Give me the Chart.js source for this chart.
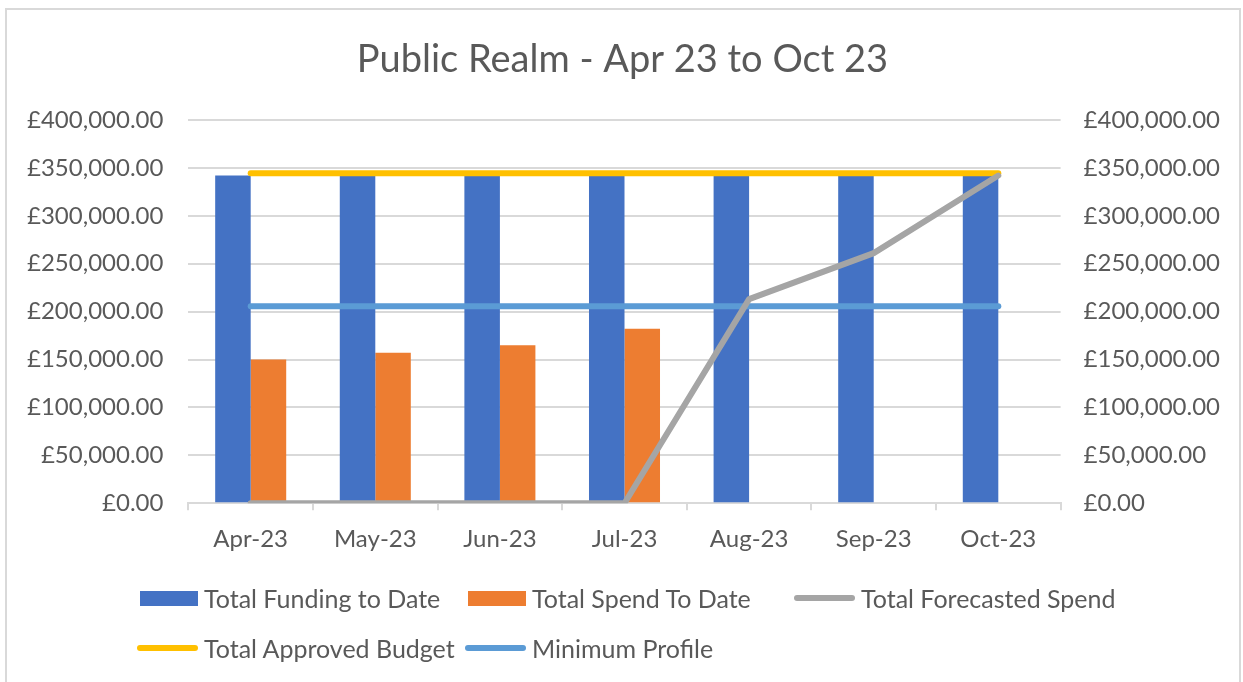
<!DOCTYPE html>
<html>
<head>
<meta charset="utf-8">
<script src="https://cdn.jsdelivr.net/npm/chart.js@4.4.0/dist/chart.umd.min.js"></script>
<style>
    html, body { margin: 0; padding: 0; background: #fff; }
    #wrap { position: relative; width: 1243px; height: 682px; overflow: hidden; font-family: Lato, sans-serif; }
    #frame { position: absolute; left: 5px; top: 8px; width: 1232px; height: 700px; border: 2px solid #d9d9d9; pointer-events: none; }
    canvas { position: absolute; left: 0; top: 0; }
    .legend-item { position: absolute; display: flex; align-items: center; height: 30px; color: #595959; font-size: 25px; white-space: nowrap; }
    .legend-item .swatch { margin-right: 6px; }
</style>
</head>
<body>
<div id="wrap">
    <canvas id="chart" width="1243" height="682"></canvas>
    <div id="legend"></div>
    <div id="frame"></div>
</div>
<script>
const months = ['Apr-23', 'May-23', 'Jun-23', 'Jul-23', 'Aug-23', 'Sep-23', 'Oct-23'];
const fundingToDate = [342000, 342000, 342000, 342000, 342000, 342000, 342000];
const spendToDate = [150000, 157000, 165000, 182000, null, null, null];
const forecastedSpend = [0, 0, 0, 0, 213000, 261000, 342000];
const approvedBudget = [344500, 344500, 344500, 344500, 344500, 344500, 344500];
const minimumProfile = [205500, 205500, 205500, 205500, 205500, 205500, 205500];

const textColor = '#595959';
const gridColor = '#d9d9d9';

const money = (v) => '£' + v.toLocaleString('en-GB', { minimumFractionDigits: 2, maximumFractionDigits: 2 });

const lineSet = (label, data, color) => ({
    type: 'line',
    label: label,
    data: data,
    borderColor: color,
    backgroundColor: color,
    borderWidth: 6,
    borderCapStyle: 'round',
    borderJoinStyle: 'round',
    pointRadius: 0,
    tension: 0,
    order: 1
});

const ctx = document.getElementById('chart').getContext('2d');
const chart = new Chart(ctx, {
    type: 'bar',
    data: {
        labels: months,
        datasets: [
            {
                label: 'Total Funding to Date',
                data: fundingToDate,
                backgroundColor: '#4472c4',
                categoryPercentage: 0.57,
                barPercentage: 1,
                order: 2
            },
            {
                label: 'Total Spend To Date',
                data: spendToDate,
                backgroundColor: '#ed7d31',
                categoryPercentage: 0.57,
                barPercentage: 1,
                order: 2
            },
            lineSet('Total Forecasted Spend', forecastedSpend, '#a5a5a5'),
            lineSet('Total Approved Budget', approvedBudget, '#ffc000'),
            lineSet('Minimum Profile', minimumProfile, '#5b9bd5')
        ]
    },
    options: {
        responsive: false,
        animation: false,
        layout: { padding: { top: 37, left: 2, right: 0, bottom: 113 } },
        plugins: {
            legend: { display: false },
            tooltip: { enabled: false },
            title: {
                display: true,
                text: 'Public Realm - Apr 23 to Oct 23',
                color: textColor,
                font: { family: 'Lato', size: 38, weight: 'normal' },
                padding: { top: 0, bottom: 37.4 }
            }
        },
        scales: {
            x: {
                grid: { display: true, drawOnChartArea: false, drawTicks: true, tickLength: 7, color: gridColor, lineWidth: 2, offset: true },
                border: { display: true, color: gridColor, width: 2 },
                ticks: { color: textColor, font: { family: 'Lato', size: 24 }, padding: 15 }
            },
            y: {
                position: 'left',
                min: 0,
                max: 400000,
                grid: { color: gridColor, lineWidth: 2, drawTicks: false },
                border: { display: false },
                ticks: { stepSize: 50000, color: textColor, font: { family: 'Lato', size: 24 }, padding: 25, callback: (v) => money(v) }
            },
            y1: {
                position: 'right',
                min: 0,
                max: 400000,
                grid: { display: false, drawTicks: false },
                border: { display: false },
                ticks: { stepSize: 50000, color: textColor, font: { family: 'Lato', size: 24 }, padding: 23, callback: (v) => money(v) }
            }
        }
    }
});

// Excel-style legend: three columns, two rows
const legendEl = document.getElementById('legend');
const colLeft = [137, 465, 794];
const rowTop = [583, 633];
chart.data.datasets.forEach((ds, i) => {
    const item = document.createElement('div');
    item.className = 'legend-item';
    item.style.left = colLeft[i % 3] + 'px';
    item.style.top = rowTop[Math.floor(i / 3)] + 'px';
    const sw = document.createElement('span');
    sw.className = 'swatch';
    if (ds.type === 'line') {
        sw.style.cssText = 'display:inline-block;width:61px;height:6px;border-radius:3px;background:' + ds.borderColor;
    } else {
        sw.style.cssText = 'display:inline-block;width:58px;height:15px;margin-left:3px;background:' + ds.backgroundColor;
    }
    item.appendChild(sw);
    item.appendChild(document.createTextNode(ds.label));
    legendEl.appendChild(item);
});
</script>
</body>
</html>
